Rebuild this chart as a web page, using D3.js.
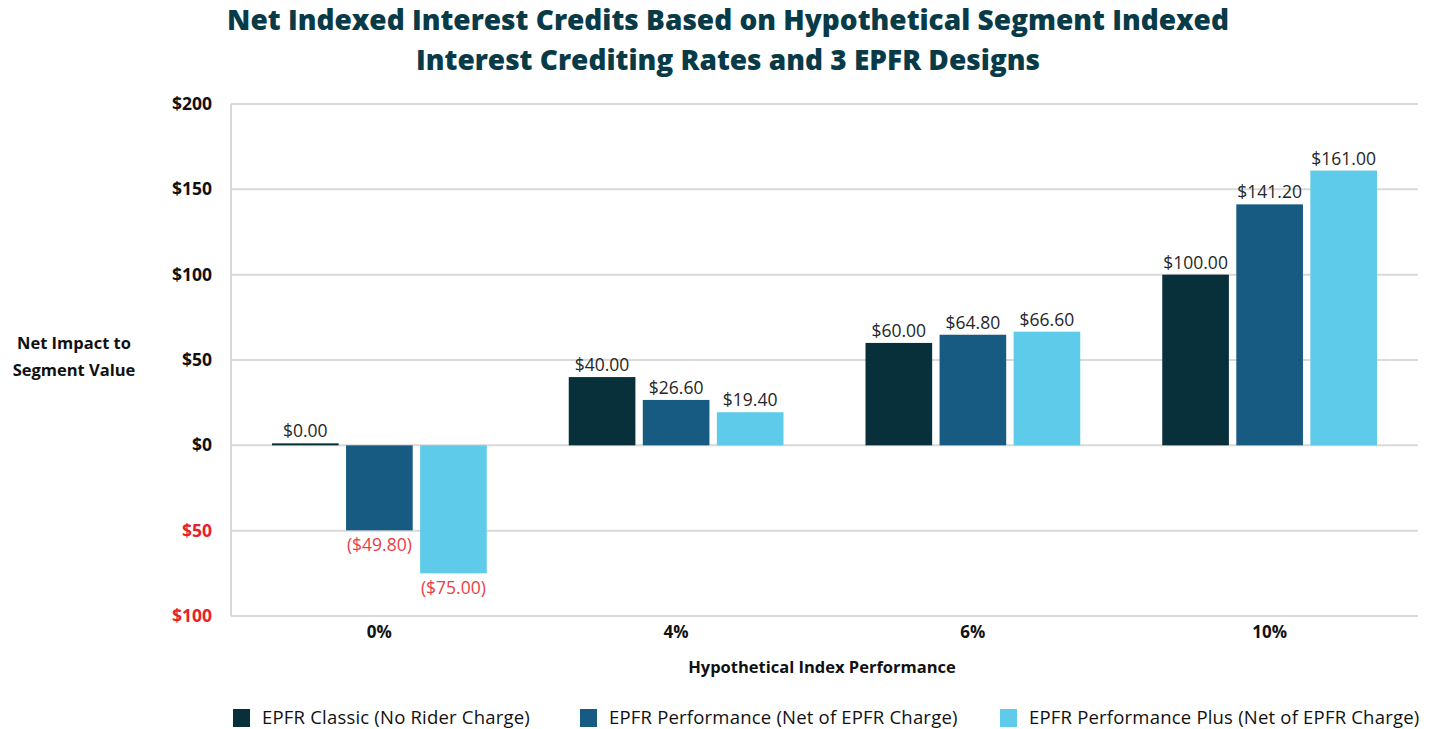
<!DOCTYPE html>
<html><head><meta charset="utf-8">
<script src="https://cdn.jsdelivr.net/npm/d3@7"></script>
<style>
html,body{margin:0;padding:0;background:#fff;}
svg{display:block;}
</style></head>
<body>
<svg id="chart" width="1434" height="729"></svg>
<script>
const categories = ["0%", "4%", "6%", "10%"];
const seriesNames = ["EPFR Classic (No Rider Charge)", "EPFR Performance (Net of EPFR Charge)", "EPFR Performance Plus (Net of EPFR Charge)"];
const classicValues = [0.00, 40.00, 60.00, 100.00];
const performanceValues = [-49.80, 26.60, 64.80, 141.20];
const plusValues = [-75.00, 19.40, 66.60, 161.00];
const yTicks = [-100, -50, 0, 50, 100, 150, 200];
const colors = ["#08303a", "#175a82", "#5fcbea"];

const series = [classicValues, performanceValues, plusValues];
const svg = d3.select("#chart");
const m = {left: 231, right: 1418, top: 104, bottom: 616};

const x0 = d3.scaleBand().domain(categories).range([m.left, m.right]).paddingInner(0).paddingOuter(0);
const x1 = d3.scaleBand().domain(d3.range(series.length)).range([41, x0.bandwidth() - 41]).paddingInner(0.1);
const y = d3.scaleLinear().domain([-100, 200]).range([m.bottom, m.top]);

// grid
svg.append("g").selectAll("line").data(yTicks).join("line")
  .attr("x1", m.left).attr("x2", m.right)
  .attr("y1", d => y(d)).attr("y2", d => y(d))
  .attr("stroke", "#d9d9d9").attr("stroke-width", 2);
svg.append("line").attr("x1", m.left).attr("x2", m.left).attr("y1", m.top).attr("y2", m.bottom)
  .attr("stroke", "#d9d9d9").attr("stroke-width", 2);

// y axis labels
const yAxis = d3.axisLeft(y).tickValues(yTicks).tickSize(0).tickPadding(19)
  .tickFormat(d => "$" + Math.abs(d));
const yg = svg.append("g").attr("transform", `translate(${m.left},0)`).call(yAxis);
yg.select(".domain").remove();
yg.selectAll("text").attr("font-family", "'Open Sans', sans-serif").attr("font-weight", "bold")
  .attr("font-size", 17.5).attr("fill", d => d < 0 ? "#e8212b" : "#111");

// x axis labels
const xAxis = d3.axisBottom(x0).tickSize(0).tickPadding(10);
const xg = svg.append("g").attr("transform", `translate(0,${m.bottom})`).call(xAxis);
xg.select(".domain").remove();
xg.selectAll("text").attr("font-family", "'Open Sans', sans-serif").attr("font-weight", "bold")
  .attr("font-size", 17).attr("fill", "#111");

// bars
const groups = svg.append("g").selectAll("g").data(categories).join("g")
  .attr("transform", d => `translate(${x0(d)},0)`);
groups.each(function(cat, ci) {
  const g = d3.select(this);
  series.forEach((vals, si) => {
    const v = vals[ci];
    const bx = x1(si);
    let top = y(Math.max(v, 0)), bot = y(Math.min(v, 0));
    if (v === 0) { top = y(0) - 2; bot = y(0); }
    g.append("rect").attr("x", bx).attr("width", x1.bandwidth())
      .attr("y", top).attr("height", bot - top).attr("fill", colors[si]);
    const label = v < 0 ? "($" + Math.abs(v).toFixed(2) + ")" : "$" + v.toFixed(2);
    g.append("text").attr("x", bx + x1.bandwidth() / 2)
      .attr("y", v < 0 ? y(v) + 21 : top - 6)
      .attr("text-anchor", "middle")
      .attr("font-family", "'Open Sans', sans-serif").attr("font-weight", 400)
      .attr("font-size", 17.5).attr("fill", v < 0 ? "#ea3d46" : "#262626")
      .text(label);
  });
});

// title
const title = svg.append("text").attr("x", 728).attr("text-anchor", "middle")
  .attr("font-family", "'Open Sans', sans-serif").attr("font-weight", 800).attr("font-size", 28).attr("fill", "#083b47");
title.append("tspan").attr("x", 728).attr("y", 30).text("Net Indexed Interest Credits Based on Hypothetical Segment Indexed");
title.append("tspan").attr("x", 728).attr("y", 70).text("Interest Crediting Rates and 3 EPFR Designs");

// y title
const yt = svg.append("text").attr("text-anchor", "middle")
  .attr("font-family", "'Open Sans', sans-serif").attr("font-weight", "bold").attr("font-size", 16.5).attr("fill", "#111");
yt.append("tspan").attr("x", 74).attr("y", 349).text("Net Impact to");
yt.append("tspan").attr("x", 74).attr("y", 376).text("Segment Value");

// x title
svg.append("text").attr("x", 822).attr("y", 673).attr("text-anchor", "middle")
  .attr("font-family", "'Open Sans', sans-serif").attr("font-weight", "bold").attr("font-size", 16.5).attr("fill", "#111")
  .text("Hypothetical Index Performance");

// legend
const legendX = [233, 580, 1000];
const lg = svg.append("g").selectAll("g").data(seriesNames).join("g")
  .attr("transform", (d, i) => `translate(${legendX[i]},709)`);
lg.append("rect").attr("width", 17).attr("height", 18).attr("fill", (d, i) => colors[i]);
lg.append("text").attr("x", 29).attr("y", 15)
  .attr("font-family", "'Open Sans', sans-serif").attr("font-size", 18.5).attr("letter-spacing", 0.2).attr("fill", "#111")
  .text(d => d);
</script>
</body></html>
